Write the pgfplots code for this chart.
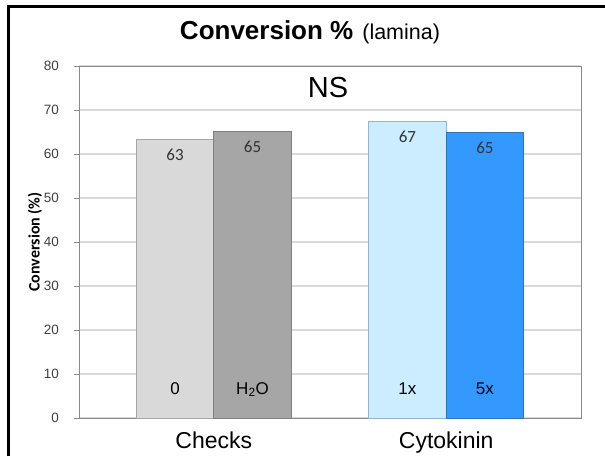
\documentclass[border=0pt]{standalone}
\usepackage{pgfplots}
\pgfplotsset{compat=1.18}
\usepackage{fontspec}
\setmainfont{Liberation Sans}
\newfontfamily\carlito{Carlito}

\definecolor{barA}{HTML}{D9D9D9}
\definecolor{edgeA}{HTML}{A6A6A6}
\definecolor{barB}{HTML}{A6A6A6}
\definecolor{edgeB}{HTML}{7F7F7F}
\definecolor{barC}{HTML}{CCECFF}
\definecolor{edgeC}{HTML}{95B3D7}
\definecolor{barD}{HTML}{3399FF}
\definecolor{edgeD}{HTML}{2E75B6}
\definecolor{gridgray}{HTML}{D9D9D9}
\definecolor{axisgray}{HTML}{898989}
\definecolor{ticktext}{HTML}{404040}

\begin{document}
\begin{tikzpicture}[x=1pt,y=1pt]
  \useasboundingbox (-79,-38) rectangle (526,418);
  \draw[line width=2.5pt] (-70.5,-38) -- (-70.5,411.5) -- (526,411.5);

  \begin{axis}[
    scale only axis,
    width=502pt, height=352pt,
    at={(0,0)}, anchor=south west,
    xmin=-0.58, xmax=1.58,
    ymin=0, ymax=80,
    ybar, bar width=0.333,
    /pgf/number format/assume math mode=true,
    ytick={0,10,...,80},
    ymajorgrids,
    grid style={color=gridgray, line width=1.2pt},
    axis line style={color=axisgray, line width=1pt},
    tick pos=left,
    tick align=outside,
    major tick length=5pt,
    y tick style={color=axisgray, line width=1pt},
    yticklabel style={font=\fontsize{13.5}{15}\selectfont, text=ticktext,
      anchor=east, inner sep=0pt, xshift=-15pt},
    xtick={0,1},
    xticklabels={Checks,Cytokinin},
    x tick style={draw=none},
    xticklabel style={font=\fontsize{23}{26}\selectfont, anchor=base,
      inner sep=0pt, yshift=-25pt},
    extra x ticks={-0.58,1.58},
    extra x tick labels={},
    extra x tick style={grid=none, tick style={draw=axisgray, line width=1pt}},
    nodes near coords={\pgfmathprintnumber[fixed,precision=0]{\pgfplotspointmeta}},
    every node near coord/.append style={font=\carlito\fontsize{17}{19}\selectfont,
      text=black!80, anchor=base, inner sep=0pt, yshift=-21pt},
  ]
    \addplot[fill=barA, draw=edgeA, line width=1pt, bar shift=0pt]
      coordinates {(-0.1667,63.2)};
    \addplot[fill=barB, draw=edgeB, line width=1pt, bar shift=0pt]
      coordinates {(0.1667,65.1)};
    \addplot[fill=barC, draw=edgeC, line width=1pt, bar shift=0pt]
      coordinates {(0.8333,67.4)};
    \addplot[fill=barD, draw=edgeD, line width=1pt, bar shift=0pt]
      coordinates {(1.1667,64.8)};

    \node[anchor=base, font=\fontsize{17}{19}\selectfont] at (axis cs:-0.1667,0) [yshift=24pt] {0};
    \node[anchor=base, font=\fontsize{17}{19}\selectfont] at (axis cs:0.1667,0) [yshift=24pt] {H\textsubscript{2}O};
    \node[anchor=base, font=\fontsize{17}{19}\selectfont] at (axis cs:0.8333,0) [yshift=24pt] {1x};
    \node[anchor=base, font=\fontsize{17}{19}\selectfont] at (axis cs:1.1667,0) [yshift=24pt] {5x};
  \end{axis}

  \node[anchor=base, inner sep=0pt] at (231,378)
    {{\fontsize{26}{30}\selectfont\bfseries Conversion \%}\hspace{9pt}{\fontsize{21.5}{26}\selectfont(lamina)}};
  \node[anchor=base, inner sep=0pt, font=\fontsize{29}{32}\selectfont] at (249,320) {NS};
  \node[rotate=90, inner sep=0pt, font=\carlito\bfseries\fontsize{16}{18}\selectfont] at (-44,176) {Conversion (\%)};
\end{tikzpicture}
\end{document}
